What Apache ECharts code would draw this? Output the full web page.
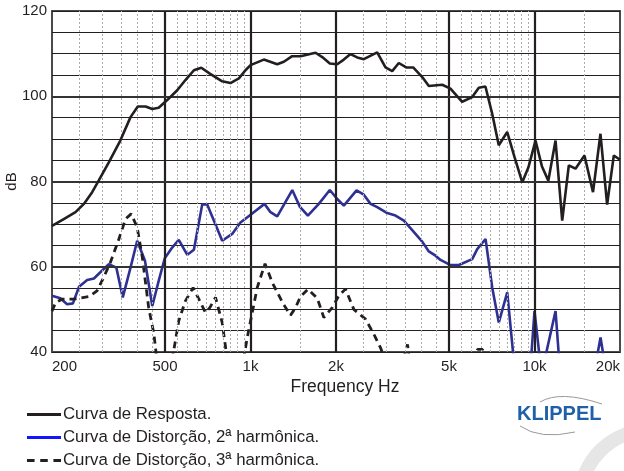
<!DOCTYPE html>
<html><head><meta charset="utf-8">
<script src="https://cdn.jsdelivr.net/npm/echarts@6/dist/echarts.min.js"></script>
<style>html,body{margin:0;padding:0;background:#fff}#c{width:624px;height:471px}</style>
</head><body><div id="c"></div>
<script>
// ---- data (frequency in Hz, level in dB) ----
const respFreq = [200,220,242,259,277,292,317,348,378,401,427,451,475,509,552,590,632,671,719,795,850,910,960,1000,1114,1242,1310,1402,1500,1694,1789,1902,2020,2131,2249,2375,2506,2793,2988,3155,3328,3532,3739,4024,4245,4732,5059,5562,6035,6366,6717,7096,7484,8016,8505,9057,9527,10080,10617,11184,11858,12518,13207,13941,14994,16069,17070,18018,19020,20000];
const respDb = [69.6,71.2,72.8,74.75,77.5,80.2,84.5,89.6,95.1,97.6,97.6,97.0,97.3,99.1,101.4,103.8,106.1,106.7,105.3,103.5,103.1,104.2,106.1,107.3,108.6,107.5,108.1,109.4,109.4,110.2,109.2,107.7,107.5,108.6,109.9,109.1,108.7,110.3,106.75,105.9,107.8,106.75,106.75,104.5,102.4,102.7,101.8,98.7,99.8,102.0,102.3,95.9,88.5,91.6,85.7,79.8,83.4,89.6,83.6,80.2,89.6,70.8,83.8,83.0,86.1,77.5,91.2,74.6,86.1,85.1];

const h2Freq = [200,214,226,237,249,266,281,296,317,337,355,378,399,425,451,475,499,530,559,599,632,676,704,795,862,922,1014,1120,1176,1242,1403,1491,1592,1740,1902,2020,2131,2362,2506,2646,2793,3029,3240,3467,3710,4024,4245,4482,4667,5061,5414,6035,6285,6724,7099,7485,8017,8456,8927,9526,10000,10700,10930,11860,12250,16300,17080,17800,20000];
const h2Db = [53.2,52.6,51.2,51.4,55.3,56.9,57.25,58.7,60.6,59.8,52.8,59.8,66.1,61.4,50.8,56.7,62.0,64.5,66.3,62.8,64.0,74.6,74.6,66.1,67.7,70.4,72.5,74.75,72.8,71.8,78.0,74.1,72.0,74.75,78.0,75.9,74.35,77.9,76.9,74.75,74.0,72.6,72.0,70.8,68.6,65.9,63.6,62.6,61.6,60.4,60.4,61.8,64.15,66.5,55.1,46.9,54.0,38,30,30,49.6,32,39,49.6,37,36,43.4,36,30];

const h3Freq = [200,206,217,239,270,288,304,321,344,363,380,399,416,438,457,474,514,559,590,628,658,694,719,753,795,837,922,974,1056,1125,1195,1301,1383,1440,1500,1594,1718,1812,1940,2046,2160,2311,2541,2718,2869,3062,3375,3572,3660,5953,6300,6561,6776,20000];
const h3Db = [49.6,51.6,52.4,52.4,53.0,54.35,57.5,61.0,66.5,71.2,72.4,69.25,62.2,50.4,44.2,35,33,47.3,52.0,55.1,52.4,49.25,50.4,52.8,46.9,36,34,43.4,55.1,60.7,56.2,51.4,48.6,50.4,53.0,54.75,52.6,48.1,50.4,53.2,54.75,50.0,47.7,44.2,41.0,36,36,41.8,36,36,40.6,40.6,36,30];

const xTickValues = [200,500,1000,2000,5000,10000,20000];
const xTickLabels = ['200','500','1k','2k','5k','10k','20k'];
const majorGridFreq = [500,1000,2000,5000,10000];
const minorGridFreq = [250,300,350,400,450,550,600,650,700,750,800,850,900,950,1500,2500,3000,3500,4000,4500,5500,6000,6500,7000,7500,8000,8500,9000,9500,15000];
const thickGridDb = [60,80,100];

const seriesNames = ['Curva de Resposta.','Curva de Distorção, 2ª harmônica.','Curva de Distorção, 3ª harmônica.'];

const zip = (a,b) => a.map((v,i)=>[v,b[i]]);
const FONT = 'Liberation Sans, Arial, sans-serif';
const INK = '#231f20';
const SOLID_ICON = 'path://M0,0H36V3H0Z';
const DASH_ICON = 'path://M0,0H8V3H0Z M14,0H22V3H14Z M28,0H36V3H28Z';

const chart = echarts.init(document.getElementById('c'), null, {renderer:'canvas'});
chart.setOption({
  animation:false,
  backgroundColor:'#fff',
  grid:{left:52,right:4,top:11,bottom:119,show:true,borderColor:'#4a4a4a',borderWidth:2,containLabel:false,outerBoundsMode:'none'},
  xAxis:{
    type:'log', logBase:10, min:200, max:20000,
    name:'Frequency Hz', nameLocation:'middle', nameGap:26, nameMoveOverlap:false,
    nameTextStyle:{fontFamily:FONT,fontSize:17.5,color:INK,padding:[0,0,0,18]},
    axisLine:{show:false}, axisTick:{show:false}, splitLine:{show:false}, minorSplitLine:{show:false},
    axisLabel:{customValues:xTickValues, fontFamily:FONT, fontSize:15, color:INK, margin:7,
      alignMinLabel:'left', alignMaxLabel:'right',
      formatter:(v)=>{const i=xTickValues.findIndex(t=>Math.abs(t-v)<1e-6*t); return i>=0?xTickLabels[i]:'';}}
  },
  yAxis:{
    type:'value', min:40, max:120, interval:5,
    name:'dB', nameLocation:'middle', nameGap:33, nameRotate:90, nameMoveOverlap:false,
    nameTextStyle:{fontFamily:FONT,fontSize:15,color:INK},
    axisLine:{show:false}, axisTick:{show:false},
    splitLine:{show:true,lineStyle:{color:INK,width:1.2}},
    axisLabel:{fontFamily:FONT,fontSize:15,color:INK,margin:5,formatter:(v)=> v%20===0 ? String(v) : ''}
  },
  legend:{
    orient:'vertical', left:27, top:406, padding:0, itemWidth:34, itemHeight:3, itemGap:6,
    selectedMode:false,
    textStyle:{fontFamily:FONT,fontSize:16.8,color:INK,padding:[0,0,0,-3]},
    data:[
      {name:seriesNames[0], icon:SOLID_ICON, itemStyle:{color:INK}},
      {name:seriesNames[1], icon:SOLID_ICON, itemStyle:{color:'#1414ff'}},
      {name:seriesNames[2], icon:DASH_ICON, itemStyle:{color:INK}}
    ]
  },
  series:[
    {type:'line', name:'grid', data:[], z:1, silent:true,
      markLine:{silent:true, symbol:'none', label:{show:false}, animation:false,
        data:[
          ...minorGridFreq.map(f=>({xAxis:f, lineStyle:{color:'#ababab',width:1,type:[2,2]}})),
          ...majorGridFreq.map(f=>({xAxis:f, lineStyle:{color:INK,width:2.2,type:'solid'}})),
          ...thickGridDb.map(d=>({yAxis:d, lineStyle:{color:'#333',width:2,type:'solid'}}))
        ]}},
    {type:'line', name:seriesNames[0], data:zip(respFreq,respDb), z:5, symbol:'none', showSymbol:false,
      lineStyle:{color:INK,width:2.6}, itemStyle:{color:INK}},
    {type:'line', name:seriesNames[1], data:zip(h2Freq,h2Db), z:4, symbol:'none', showSymbol:false,
      lineStyle:{color:'#2e3192',width:2.6}, itemStyle:{color:'#2e3192'}},
    {type:'line', name:seriesNames[2], data:zip(h3Freq,h3Db), z:4, symbol:'none', showSymbol:false,
      lineStyle:{color:INK,width:2.8,type:[7,5]}, itemStyle:{color:INK}}
  ],
  graphic:[
    {type:'circle', silent:true, z:-1, shape:{cx:650,cy:500,r:70}, style:{fill:'none',stroke:'#e6e6e6',lineWidth:14}},
    {type:'bezierCurve', silent:true, shape:{x1:540,y1:402,cpx1:560,cpy1:390,x2:602,y2:404}, style:{stroke:'#9a9a9a',lineWidth:1,fill:'none'}},
    {type:'bezierCurve', silent:true, shape:{x1:520,y1:426,cpx1:540,cpy1:440,x2:575,y2:432}, style:{stroke:'#9a9a9a',lineWidth:1,fill:'none'}},
    {type:'text', silent:true, left:517, top:404, style:{text:'KLIPPEL', fontFamily:FONT, fontSize:20, fontWeight:'bold', fill:'#1f60a8'}}
  ]
});
</script>
</body></html>
